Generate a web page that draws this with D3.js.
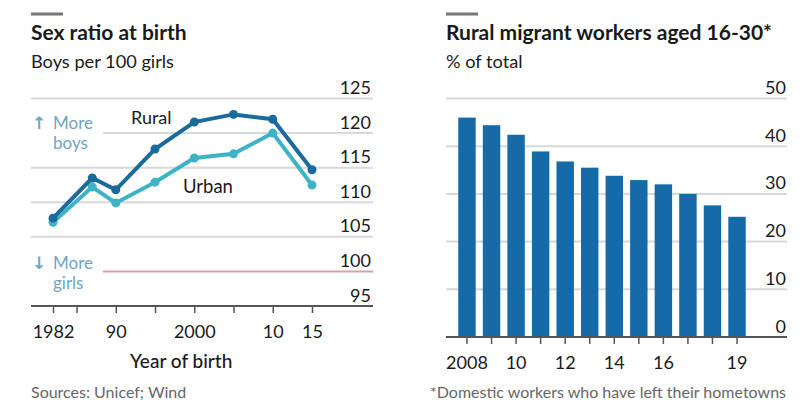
<!DOCTYPE html>
<html>
<head>
<meta charset="utf-8">
<script src="https://cdn.jsdelivr.net/npm/d3@7"></script>
<style>
  body { margin: 0; background: #fff; }
  text { font-family: Lato, "Open Sans", sans-serif; fill: #1a1a1a; }
</style>
</head>
<body>
<svg id="chart" width="804" height="420"></svg>
<script>
// Left panel data
const years = [1982, 1987, 1990, 1995, 2000, 2005, 2010, 2015];
const rural = [107.7, 113.5, 111.8, 117.7, 121.6, 122.7, 122, 114.7];
const urban = [107.1, 112.2, 109.9, 112.9, 116.4, 117, 120, 112.5];
const ratioTicks = [95, 100, 105, 110, 115, 120, 125];
const yearTicks = [1982, 1985, 1990, 1995, 2000, 2005, 2010, 2015];
const yearLabels = { 1982: "1982", 1990: "90", 2000: "2000", 2010: "10", 2015: "15" };

// Right panel data
const barYears = [2008, 2009, 2010, 2011, 2012, 2013, 2014, 2015, 2016, 2017, 2018, 2019];
const barValues = [46, 44.4, 42.4, 38.9, 36.8, 35.5, 33.8, 32.9, 32, 30, 27.6, 25.2];
const barTicks = [0, 10, 20, 30, 40, 50];
const barLabels = { 2008: "2008", 2010: "10", 2012: "12", 2014: "14", 2016: "16", 2019: "19" };

const svg = d3.select("#chart");
const blueGrey = "#6fa5be";

const addText = function(x, y, str, size, opts) {
  opts = opts || {};
  return svg.append("text")
    .attr("x", x)
    .attr("y", y)
    .attr("text-anchor", opts.anchor || "start")
    .style("font-size", size + "px")
    .style("font-weight", opts.weight || 400)
    .style("fill", opts.fill || "#1a1a1a")
    .text(str);
};

// two line note with its arrow
const addNote = function(y, arrow, first, second) {
  addText(32, y, arrow, 17, { fill: blueGrey }).style("font-family", "DejaVu Sans").style("font-weight", 700);
  addText(53, y, first, 17, { fill: blueGrey });
  addText(53, y + 20.5, second, 17, { fill: blueGrey });
};

// Headers
[[31, "Sex ratio at birth", "Boys per 100 girls"],
 [446, "Rural migrant workers aged 16-30*", "% of total"]].forEach((h) => {
  svg.append("rect").attr("x", h[0]).attr("y", 12.5).attr("width", 32).attr("height", 3).attr("fill", "#777");
  addText(h[0], 40, h[1], 21, { weight: 700 });
  addText(h[0], 68, h[2], 18.2);
});

// ---- Sex ratio line chart ----
const x = d3.scaleLinear().domain([1982, 2015]).range([53, 312]);
const y = d3.scaleLinear().domain([95, 125]).range([306, 98.5]);

ratioTicks.forEach((t) => {
  if (t === 95) return;
  // the annotations sit over the left end of the 120 and 100 lines
  const start = (t === 120 || t === 100) ? 103 : 31;
  svg.append("line")
    .attr("x1", start).attr("x2", 373)
    .attr("y1", y(t)).attr("y2", y(t))
    .attr("stroke", t === 100 ? "#d3a3a9" : "#d6d8da")
    .attr("stroke-width", 2);
});

const yAxisL = svg.append("g")
  .attr("transform", "translate(371,0)")
  .call(d3.axisLeft(y).tickValues(ratioTicks).tickSize(0));
yAxisL.select(".domain").remove();
yAxisL.selectAll("text")
  .attr("x", 0).attr("dy", -5)
  .attr("text-anchor", "end")
  .style("font-size", "18px");

const xAxisL = svg.append("g")
  .attr("transform", `translate(0,${y(95)})`)
  .call(d3.axisBottom(x).tickValues(yearTicks).tickSize(7)
    .tickFormat((d) => yearLabels[d] || ""));
xAxisL.select(".domain").remove();
xAxisL.selectAll("line").attr("stroke", "#555").attr("stroke-width", 1.5);
xAxisL.selectAll("text").attr("y", 32).attr("dy", 0).style("font-size", "18px");
svg.append("line").attr("x1", 31).attr("x2", 373).attr("y1", y(95)).attr("y2", y(95))
  .attr("stroke", "#555").attr("stroke-width", 2);

const line = d3.line().x((d, i) => x(years[i])).y((d) => y(d));
[[urban, "#3fb3c6"], [rural, "#1a6a9e"]].forEach((s) => {
  svg.append("path")
    .attr("d", line(s[0]))
    .attr("fill", "none")
    .attr("stroke", s[1])
    .attr("stroke-width", 4);
  svg.selectAll(null).data(s[0]).enter().append("circle")
    .attr("cx", (d, i) => x(years[i]))
    .attr("cy", (d) => y(d))
    .attr("r", 4.5)
    .attr("fill", s[1]);
});

addText(131, 124, "Rural", 18);
addText(183, 193, "Urban", 18.5);
addNote(128.5, "↑", "More", "boys");
addNote(268.5, "↓", "More", "girls");

addText(130, 368, "Year of birth", 19, { weight: 500 });
addText(31, 398, "Sources: Unicef; Wind", 16, { fill: "#666" });

// ---- Migrant workers bar chart ----
const xb = d3.scaleBand().domain(barYears).range([454.7, 749.3]).paddingInner(0.29).paddingOuter(0.145);
const yb = d3.scaleLinear().domain([0, 50]).range([337, 98.5]);

barTicks.forEach((t) => {
  if (t === 0) return;
  svg.append("line")
    .attr("x1", 446).attr("x2", 787)
    .attr("y1", yb(t)).attr("y2", yb(t))
    .attr("stroke", "#d6d8da")
    .attr("stroke-width", 2);
});

svg.selectAll(".bar").data(barValues).enter().append("rect")
  .attr("class", "bar")
  .attr("x", (d, i) => xb(barYears[i]))
  .attr("width", xb.bandwidth())
  .attr("y", (d) => yb(d))
  .attr("height", (d) => yb(0) - yb(d))
  .attr("fill", "#156aa8");

const yAxisR = svg.append("g")
  .attr("transform", "translate(786,0)")
  .call(d3.axisLeft(yb).tickValues(barTicks).tickSize(0));
yAxisR.select(".domain").remove();
yAxisR.selectAll("text")
  .attr("x", 0).attr("dy", -5)
  .attr("text-anchor", "end")
  .style("font-size", "18px");

const xAxisR = svg.append("g")
  .attr("transform", `translate(0,${yb(0)})`)
  .call(d3.axisBottom(xb).tickSize(7).tickFormat((d) => barLabels[d] || ""));
xAxisR.select(".domain").remove();
xAxisR.selectAll("line").attr("stroke", "#555").attr("stroke-width", 1.5);
xAxisR.selectAll("text").attr("y", 32).attr("dy", 0).style("font-size", "18px");
svg.append("line").attr("x1", 446).attr("x2", 787).attr("y1", yb(0)).attr("y2", yb(0))
  .attr("stroke", "#555").attr("stroke-width", 2);

addText(786, 398, "*Domestic workers who have left their hometowns", 16, { anchor: "end", fill: "#666" });
</script>
</body>
</html>
